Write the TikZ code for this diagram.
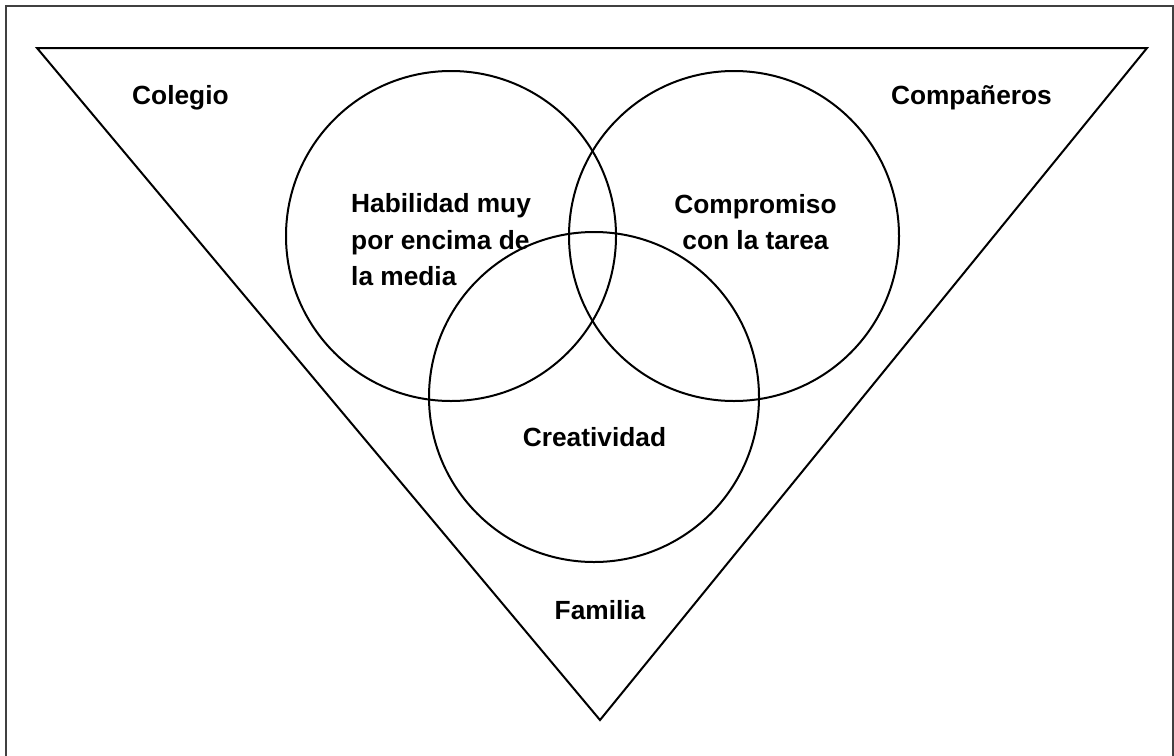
\documentclass[tikz,border=0pt]{standalone}
\usepackage{fontspec}
\setmainfont{Liberation Sans}
\begin{document}
\begin{tikzpicture}[x=1pt,y=-1pt,
  lbl/.style={font=\bfseries\fontsize{26.3}{36.5}\selectfont, inner sep=0pt},
  ring/.style={draw, circle, line width=2pt, minimum size=330pt, inner sep=0pt},
  edge/.style={line width=2pt, line join=miter}]
\useasboundingbox (0,0) rectangle (1174,755);
% frame
\draw[line width=2pt, black!75] (6,780) -- (6,6) -- (1173,6) -- (1173,780);
% triangle
\coordinate (tl) at (37,48);
\coordinate (tr) at (1147,48);
\coordinate (bt) at (600,720);
\draw[edge] (tl) -- (tr) -- (bt) -- cycle;
% circles
\node[ring] (hab) at (451,236) {};
\node[ring] (com) at (734,236) {};
\node[ring] (cre) at (594,397) {};
% labels
\node[lbl, anchor=west] (colegio) at (132,98) {Colegio};
\node[lbl, anchor=east] (comp) at (1052,98) {Compañeros};
\node[lbl, align=left, anchor=west] (habt) at (351,240) {Habilidad muy\\por encima de\\la media};
\node[lbl, align=center] (comt) at (755.5,222) {Compromiso\\con la tarea};
\node[lbl] (cret) at (594.5,437) {Creatividad};
\node[lbl] (fam) at (600,610) {Familia};
\end{tikzpicture}
\end{document}
